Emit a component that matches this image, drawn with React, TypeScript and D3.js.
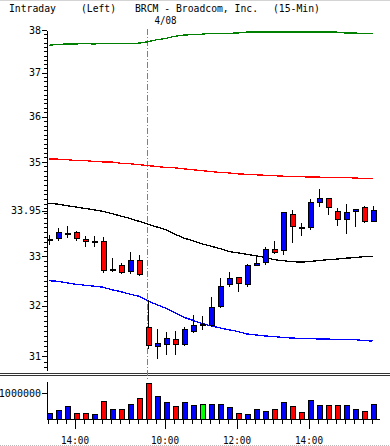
import React, { useRef, useEffect } from "react";
import * as d3 from "d3";

// 15-min bars: 4/07 afternoon, then 4/08 full session
const times = [
  "4/07 13:15", "4/07 13:30", "4/07 13:45", "4/07 14:00", "4/07 14:15", "4/07 14:30",
  "4/07 14:45", "4/07 15:00", "4/07 15:15", "4/07 15:30", "4/07 15:45",
  "4/08 9:30", "4/08 9:45", "4/08 10:00", "4/08 10:15", "4/08 10:30", "4/08 10:45",
  "4/08 11:00", "4/08 11:15", "4/08 11:30", "4/08 11:45", "4/08 12:00", "4/08 12:15",
  "4/08 12:30", "4/08 12:45", "4/08 13:00", "4/08 13:15", "4/08 13:30", "4/08 13:45",
  "4/08 14:00", "4/08 14:15", "4/08 14:30", "4/08 14:45", "4/08 15:00", "4/08 15:15",
  "4/08 15:30", "4/08 15:45",
];

const open = [
  33.33, 33.37, 33.47, 33.5, 33.35, 33.3, 33.31, 32.72, 32.82, 32.69, 32.92,
  31.57, 31.22, 31.25, 31.34, 31.24, 31.5, 31.63, 31.63, 31.99, 32.43, 32.57,
  32.43, 32.83, 32.89, 33.15, 33.13, 33.88, 33.61, 33.62, 34.13, 34.22, 33.94,
  33.77, 33.94, 34.02, 33.73,
];
const high = [
  33.44, 33.58, 33.63, 33.52, 33.42, 33.41, 33.4, 32.96, 32.87, 33.08, 33.02,
  32.11, 31.54, 31.47, 31.5, 31.58, 31.81, 31.79, 32.17, 32.55, 32.67, 32.58,
  32.84, 32.98, 33.2, 33.31, 33.93, 33.97, 33.7, 34.2, 34.41, 34.23, 34.01,
  34.09, 33.99, 34.04, 34.04,
];
const low = [
  33.23, 33.32, 33.37, 33.32, 33.19, 33.2, 32.66, 32.68, 32.63, 32.63, 32.6,
  31.15, 30.95, 31.03, 31.03, 31.21, 31.45, 31.52, 31.58, 31.96, 32.37, 32.28,
  32.37, 32.81, 32.81, 33.05, 33.03, 33.28, 33.42, 33.55, 34.03, 33.85, 33.62,
  33.47, 33.6, 33.7, 33.71,
];
const close = [
  33.35, 33.5, 33.48, 33.37, 33.31, 33.31, 32.72, 32.74, 32.67, 32.92, 32.64,
  31.21, 31.27, 31.36, 31.24, 31.53, 31.62, 31.63, 31.98, 32.39, 32.55, 32.45,
  32.82, 32.87, 33.15, 33.09, 33.92, 33.62, 33.6, 34.14, 34.22, 34.03, 33.77,
  33.92, 33.98, 33.73, 33.97,
];
const volume = [
  230000, 350000, 470000, 230000, 230000, 170000, 700000, 390000, 390000, 560000, 820000,
  1400000, 860000, 660000, 470000, 660000, 520000, 580000, 550000, 580000, 430000, 230000,
  190000, 390000, 310000, 390000, 660000, 470000, 270000, 740000, 510000, 510000, 510000,
  510000, 390000, 310000, 550000,
];

// overlay lines
const bandTop = [
  37.64, 37.66, 37.67, 37.67, 37.68, 37.67, 37.68, 37.68, 37.68, 37.68, 37.69,
  37.72, 37.77, 37.8, 37.85, 37.88, 37.89, 37.9, 37.92, 37.92, 37.92, 37.93,
  37.95, 37.95, 37.95, 37.95, 37.95, 37.95, 37.95, 37.95, 37.95, 37.95, 37.95,
  37.93, 37.93, 37.91, 37.91,
];
const bandUpper = [
  35.06, 35.06, 35.05, 35.03, 35.03, 35.01, 35.0, 35.0, 34.97, 34.96, 34.94,
  34.92, 34.9, 34.88, 34.87, 34.85, 34.83, 34.81, 34.79, 34.77, 34.76, 34.74,
  34.73, 34.72, 34.71, 34.7, 34.69, 34.68, 34.68, 34.67, 34.67, 34.66, 34.66,
  34.66, 34.65, 34.64, 34.64,
];
const bandMid = [
  34.11, 34.09, 34.06, 34.03, 34.0, 33.97, 33.94, 33.89, 33.84, 33.79, 33.73,
  33.67, 33.61, 33.55, 33.46, 33.38, 33.32, 33.26, 33.21, 33.16, 33.1, 33.07,
  33.04, 33.01, 32.98, 32.93, 32.91, 32.89, 32.88, 32.89, 32.91, 32.93, 32.94,
  32.96, 32.97, 32.99, 33.0,
];
const bandLower = [
  32.5, 32.49, 32.46, 32.43, 32.41, 32.39, 32.37, 32.32, 32.28, 32.23, 32.19,
  32.1, 32.02, 31.95, 31.86, 31.77, 31.71, 31.65, 31.6, 31.56, 31.52, 31.49,
  31.44, 31.42, 31.4, 31.39, 31.37, 31.36, 31.35, 31.35, 31.34, 31.34, 31.33,
  31.33, 31.33, 31.31, 31.3,
];

const priceTicks = [38, 37, 36, 35, 33.95, 33, 32, 31];
const volumeTicks = [1000000];
const timeTicks = ["4/07 14:00", "4/08 10:00", "4/08 12:00", "4/08 14:00"];
const dayStart = "4/08 9:30";

const App = () => {
  const svgRef = useRef<SVGSVGElement>(null);

  useEffect(() => {
    const w = 390;
    const h = 446;
    const font = "'DejaVu Sans Mono', monospace";
    const svg = d3
      .select(svgRef.current)
      .attr("width", w)
      .attr("height", h)
      .style("background", "#fff");

    svg.selectAll("*").remove();

    const x = d3.scalePoint<string>().domain(times).range([48.5, 372.5]);
    const y = d3.scaleLog().domain([30.74, 38]).range([370, 30]);
    const yv = d3.scaleLinear().domain([0, 1450000]).range([418.5, 381.4]);

    // frame lines
    svg.append("line").attr("x1", 0).attr("x2", w).attr("y1", 0.5).attr("y2", 0.5).attr("stroke", "#d4d4d4");
    [373.5, 375.5].forEach((yy) =>
      svg.append("line").attr("x1", 0).attr("x2", w).attr("y1", yy).attr("y2", yy).attr("stroke", "#333")
    );
    svg.append("line").attr("x1", 0).attr("x2", w).attr("y1", 445.5).attr("y2", 445.5)
      .attr("stroke", "#bbb").attr("stroke-dasharray", "1,1");

    // title
    const title = [
      { t: "Intraday", x: 9, len: 47 },
      { t: "(Left)", x: 81, len: 35 },
      { t: "BRCM - Broadcom, Inc.", x: 135, len: 123 },
      { t: "(15-Min)", x: 273, len: 47 },
    ];
    title.forEach((d) =>
      svg.append("text").attr("x", d.x).attr("y", 11.5).text(d.t)
        .attr("font-family", font).attr("font-size", 10.5)
        .attr("textLength", d.len).attr("lengthAdjust", "spacingAndGlyphs")
    );

    // day separator
    const xd = x(dayStart)!;
    svg.append("line").attr("x1", xd).attr("x2", xd).attr("y1", 29).attr("y2", 379)
      .attr("stroke", "#808080").attr("stroke-dasharray", "6,2,1,2");
    svg.append("text").attr("x", xd + 7).attr("y", 24).text("4/08")
      .attr("font-family", font).attr("font-size", 10)
      .attr("textLength", 22).attr("lengthAdjust", "spacingAndGlyphs");

    // price axis
    const minor = svg.append("g").attr("transform", "translate(47,0)")
      .call(d3.axisLeft(y).tickValues(d3.range(308, 381).map((v) => v / 10)).tickSize(3).tickFormat(() => ""));
    minor.select(".domain").remove();
    const pa = svg.append("g").attr("transform", "translate(47,0)")
      .call(d3.axisLeft(y).tickValues(priceTicks).tickSize(5).tickSizeOuter(0).tickPadding(1)
        .tickFormat((d) => String(d)));
    svg.selectAll(".tick line").attr("stroke", "#000").attr("shape-rendering", "crispEdges");
    pa.select(".domain").attr("stroke", "#000").attr("shape-rendering", "crispEdges");
    pa.selectAll(".tick text").attr("font-family", font).attr("font-size", 10).attr("fill", "#000");

    // clip for plot
    svg.append("clipPath").attr("id", "plotclip").append("rect")
      .attr("x", 47.5).attr("y", 0).attr("width", w - 47.5).attr("height", 372);
    const plot = svg.append("g").attr("clip-path", "url(#plotclip)");

    const lines = [
      { data: bandTop, color: "#008000" },
      { data: bandUpper, color: "#ff0000" },
      { data: bandMid, color: "#000000" },
      { data: bandLower, color: "#0000ff" },
    ];
    const lineGen = d3.line<number>().x((_, i) => x(times[i])!).y((d) => y(d));
    lines.forEach((l) =>
      plot.append("path").attr("d", lineGen(l.data)).attr("fill", "none")
        .attr("stroke", l.color).attr("stroke-width", 1.3).attr("shape-rendering", "crispEdges")
    );

    // candles
    const idx = d3.range(times.length);
    const cg = plot.selectAll(".candle").data(idx).enter().append("g").attr("class", "candle");
    cg.append("line")
      .attr("x1", (i) => Math.round(x(times[i])!) + 0.5)
      .attr("x2", (i) => Math.round(x(times[i])!) + 0.5)
      .attr("y1", (i) => y(high[i]))
      .attr("y2", (i) => y(low[i]))
      .attr("stroke", "#000").attr("shape-rendering", "crispEdges");
    cg.append("rect")
      .attr("x", (i) => Math.round(x(times[i])!) - 2)
      .attr("y", (i) => Math.round(y(Math.max(open[i], close[i]))))
      .attr("width", 5)
      .attr("height", (i) => Math.max(1, Math.round(y(Math.min(open[i], close[i])) - y(Math.max(open[i], close[i])))))
      .attr("fill", (i) => (close[i] > open[i] ? "#0000ff" : close[i] < open[i] ? "#ff0000" : "#000"))
      .attr("stroke", "#000").attr("shape-rendering", "crispEdges");

    // volume panel
    const colorOf = (i: number) => (close[i] > open[i] ? "#0000ff" : close[i] < open[i] ? "#ff0000" : "#00ff00");
    svg.selectAll(".vol").data(idx).enter().append("rect").attr("class", "vol")
      .attr("x", (i) => Math.round(x(times[i])!) - 2)
      .attr("y", (i) => Math.round(yv(volume[i])))
      .attr("width", 5)
      .attr("height", (i) => Math.round(yv(0)) - Math.round(yv(volume[i])))
      .attr("fill", (i) => colorOf(i))
      .attr("stroke", "#000").attr("shape-rendering", "crispEdges");

    const va = svg.append("g").attr("transform", "translate(47,0)")
      .call(d3.axisLeft(yv).tickValues(volumeTicks).tickSize(5).tickSizeOuter(0).tickPadding(1)
        .tickFormat((d) => String(d)));
    va.select(".domain").attr("stroke", "#000").attr("shape-rendering", "crispEdges");
    va.selectAll(".tick line").attr("stroke", "#000").attr("shape-rendering", "crispEdges");
    va.selectAll(".tick text").attr("font-family", font).attr("font-size", 10).attr("fill", "#000");

    // time axis
    const base = Math.round(yv(0)) + 0.5;
    svg.append("line").attr("x1", 47).attr("x2", 380).attr("y1", base).attr("y2", base)
      .attr("stroke", "#000").attr("shape-rendering", "crispEdges");
    const ta = svg.append("g").attr("transform", `translate(-1,${base})`)
      .call(d3.axisBottom(x).tickValues(times).tickSize(4).tickFormat(() => ""));
    ta.select(".domain").remove();
    const tb = svg.append("g").attr("transform", `translate(-1,${base})`)
      .call(d3.axisBottom(x).tickValues(timeTicks).tickSize(9).tickPadding(8)
        .tickFormat((d) => d.split(" ")[1]));
    tb.select(".domain").remove();
    svg.selectAll(".tick line").attr("stroke", "#000").attr("shape-rendering", "crispEdges");
    tb.selectAll(".tick text").attr("font-family", font).attr("font-size", 11).attr("fill", "#000")
      .attr("textLength", 28).attr("lengthAdjust", "spacingAndGlyphs");
  }, []);

  return <svg ref={svgRef} style={{ position: "absolute", left: 0, top: 0, display: "block" }}></svg>;
};

export default App;
